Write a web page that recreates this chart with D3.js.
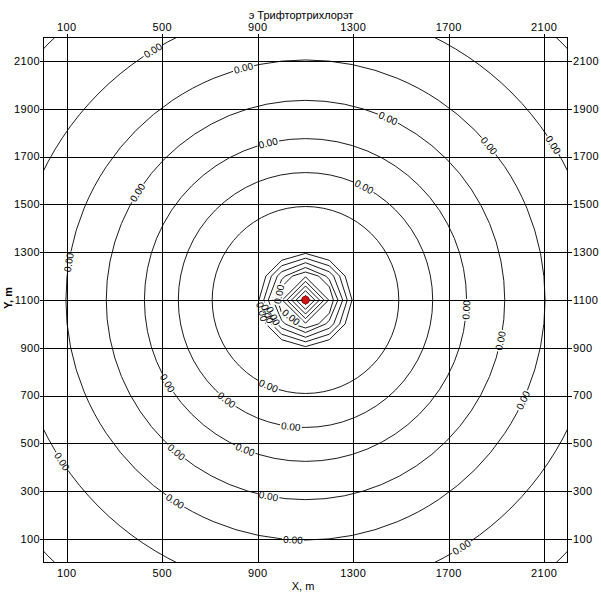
<!DOCTYPE html>
<html><head><meta charset="utf-8">
<script src="https://cdn.jsdelivr.net/npm/d3@7/dist/d3.min.js"></script>
<style>
html,body{margin:0;padding:0;background:#fff;}
text{font-family:"Liberation Sans",Arial,sans-serif;}
</style></head>
<body><svg id="c" width="601" height="601"></svg>
<script>
// ---- data ----
const title = "э Трифтортрихлорэт";
const xLabel = "X, m";
const yLabel = "Y, m";
const xDomain = [0, 2200];
const yDomain = [0, 2200];
const xTicks = [100, 500, 900, 1300, 1700, 2100];
const yTicks = [100, 300, 500, 700, 900, 1100, 1300, 1500, 1700, 1900, 2100];
const source = [1100, 1100];
// outer (near-circular) isolines: radius in m around the source
const circleRadii = [391, 533, 675, 835, 1004, 1224, 1520];
// inner isolines: vertices of one quadrant (dx, dy in m), mirrored to the others
const innerQuadrants = [
  [[19.5,0],[0,19.5]],
  [[39,0],[0,39]],
  [[58.5,0],[0,58.5]],
  [[78,0],[0,78]],
  [[97,0],[0,97]],
  [[117,0],[100,55],[55,100],[0,117]],
  [[136,0],[100,85],[85,100],[0,136]],
  [[156,0],[118,100],[100,118],[0,156]],
  [[175,0],[143,100],[100,143],[0,175]],
  [[195,0],[166,100],[100,166],[0,195]]
];
const levelText = "0.00";
// labels on circles: [circle index, angle in degrees (counter-clockwise from +X)]
const circleLabels = [
  [5,121.5],[4,105],[3,65.5],[4,40],[5,32],[2,103.4],[3,147.5],[1,62.6],
  [4,171],[2,-3.5],[3,-11.8],[2,211],[0,246.6],[4,-24.7],[1,231.7],[1,263.4],
  [5,213.5],[3,229.6],[2,248],[4,237],[3,259.3],[4,267],[5,-57.7]
];
// labels on inner isolines: [inner index, angle]
const innerLabels = [[5,168],[4,230],[9,195],[8,200],[7,206]];

// ---- layout ----
const L = 43, R = 568, T = 37, B = 563;
const x = d3.scaleLinear().domain(xDomain).range([L, R]);
const y = d3.scaleLinear().domain(yDomain).range([B, T]);
const svg = d3.select("#c");
const defs = svg.append("defs");
defs.append("clipPath").attr("id","plot").append("rect")
  .attr("x",L).attr("y",T).attr("width",R-L).attr("height",B-T);

// gridlines
const grid = svg.append("g").attr("stroke","#000").attr("stroke-width",1).attr("shape-rendering","crispEdges");
grid.selectAll("line.v").data(xTicks).join("line").attr("class","v")
  .attr("x1",d=>Math.round(x(d))+0.5).attr("x2",d=>Math.round(x(d))+0.5).attr("y1",T-3).attr("y2",B);
grid.selectAll("line.h").data(yTicks).join("line").attr("class","h")
  .attr("y1",d=>Math.round(y(d))+0.5).attr("y2",d=>Math.round(y(d))+0.5).attr("x1",L-3).attr("x2",R+4);

// label geometry
function labelPos(rx, ry, ang) {
  const a = ang*Math.PI/180;
  const px = x(source[0] + rx*Math.cos(a));
  const py = y(source[1] + ry*Math.sin(a));
  let rot = Math.atan2(py - y(source[1]), px - x(source[0]))*180/Math.PI + 90;
  while (rot > 90) rot -= 180;
  while (rot <= -90) rot += 180;
  return {px, py, rot};
}
const labels = circleLabels.map(([i,a]) => labelPos(circleRadii[i], circleRadii[i], a));
function innerAxisR(i){ return innerQuadrants[i][0][0]; }
innerLabels.forEach(([i,a]) => labels.push(labelPos(innerAxisR(i)*0.97, innerAxisR(i)*0.97, a)));

// mask for gaps around labels
const mask = defs.append("mask").attr("id","gaps").attr("maskUnits","userSpaceOnUse")
  .attr("x",0).attr("y",0).attr("width",601).attr("height",601);
mask.append("rect").attr("width",601).attr("height",601).attr("fill","#fff");
mask.selectAll("rect.g").data(labels).join("rect").attr("class","g")
  .attr("x",-11).attr("y",-5).attr("width",22).attr("height",10).attr("fill","#000")
  .attr("transform",d=>`translate(${d.px},${d.py}) rotate(${d.rot})`);

// contours
const cg = svg.append("g").attr("clip-path","url(#plot)").append("g").attr("mask","url(#gaps)")
  .attr("fill","none").attr("stroke","#000").attr("stroke-width",0.9);
cg.selectAll("ellipse").data(circleRadii).join("ellipse")
  .attr("cx",x(source[0])).attr("cy",y(source[1]))
  .attr("rx",d=>x(source[0]+d)-x(source[0])).attr("ry",d=>y(source[1])-y(source[1]+d));
function fullPoly(q) {
  const pts = [];
  q.forEach(p=>pts.push([p[0],p[1]]));
  q.slice().reverse().forEach(p=>pts.push([-p[0],p[1]]));
  q.forEach(p=>pts.push([-p[0],-p[1]]));
  q.slice().reverse().forEach(p=>pts.push([p[0],-p[1]]));
  return pts;
}
const line = d3.line().x(d=>x(source[0]+d[0])).y(d=>y(source[1]+d[1])).curve(d3.curveLinearClosed);
cg.selectAll("path").data(innerQuadrants).join("path").attr("d",q=>line(fullPoly(q)));

// border
svg.append("rect").attr("x",L+0.5).attr("y",T+0.5).attr("width",R-L-1).attr("height",B-T-1)
  .attr("fill","none").attr("stroke","#000").attr("shape-rendering","crispEdges");

// contour labels
svg.append("g").selectAll("text").data(labels).join("text")
  .attr("transform",d=>`translate(${d.px},${d.py}) rotate(${d.rot})`)
  .attr("text-anchor","middle").attr("dy","0.35em").attr("font-size",10).attr("fill","#000")
  .text(levelText);

// tick labels
const tf = {"font-size":11, "letter-spacing":"0.4px", fill:"#000"};
function styl(sel){ Object.entries(tf).forEach(([k,v])=>sel.attr(k,v)); return sel; }
styl(svg.append("g").selectAll("text").data(xTicks).join("text")
  .attr("x",d=>x(d)).attr("y",31).attr("text-anchor","middle").text(d=>d));
styl(svg.append("g").selectAll("text").data(xTicks).join("text")
  .attr("x",d=>x(d)).attr("y",577).attr("text-anchor","middle").text(d=>d));
styl(svg.append("g").selectAll("text").data(yTicks).join("text")
  .attr("x",40).attr("y",d=>y(d)).attr("dy","0.35em").attr("text-anchor","end").text(d=>d));
styl(svg.append("g").selectAll("text").data(yTicks).join("text")
  .attr("x",573).attr("y",d=>y(d)).attr("dy","0.35em").attr("text-anchor","start").text(d=>d));

// titles
svg.append("text").attr("x",301).attr("y",19).attr("text-anchor","middle").attr("font-size",11).text(title);
svg.append("text").attr("x",303).attr("y",590).attr("text-anchor","middle").attr("font-size",11).text(xLabel);
svg.append("text").attr("transform","translate(12,298) rotate(-90)").attr("text-anchor","middle")
  .attr("font-size",11).attr("font-weight","bold").text(yLabel);

// source marker
svg.append("circle").attr("cx",x(source[0])).attr("cy",y(source[1])).attr("r",3.8)
  .attr("fill","#d01414").attr("stroke","#8a0000").attr("stroke-width",0.8);
</script></body></html>
